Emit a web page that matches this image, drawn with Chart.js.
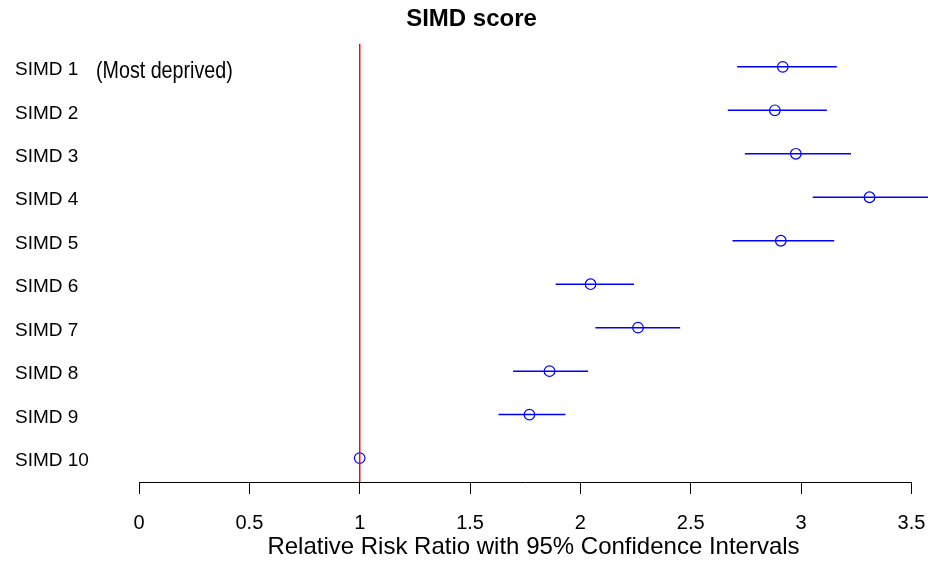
<!DOCTYPE html>
<html>
<head>
<meta charset="utf-8">
<title>SIMD score</title>
<script src="https://cdn.jsdelivr.net/npm/chart.js@4/dist/chart.umd.min.js"></script>
<style>
  html, body { margin: 0; padding: 0; background: #fff; }
  #wrap { width: 928px; height: 562px; }
</style>
</head>
<body>
<div id="wrap"><canvas id="chart"></canvas></div>
<script>
const categories = ["SIMD 1", "SIMD 2", "SIMD 3", "SIMD 4", "SIMD 5",
  "SIMD 6", "SIMD 7", "SIMD 8", "SIMD 9", "SIMD 10"];
const ratio = [2.917, 2.881, 2.976, 3.310, 2.908, 2.046, 2.261, 1.860, 1.769, 1.0];
const lower = [2.710, 2.668, 2.745, 3.053, 2.689, 1.888, 2.068, 1.695, 1.629, 1.0];
const upper = [3.162, 3.117, 3.226, 3.600, 3.150, 2.243, 2.452, 2.035, 1.932, 1.0];
const xTicks = [0, 0.5, 1, 1.5, 2, 2.5, 3, 3.5];
const referenceLine = 1;
const note = "(Most deprived)";

const BLUE = "#0000ff";
const FONT = "'Liberation Sans', Arial, sans-serif";
const Y_MIN = 0.47;
const Y_MAX = 10.55;

// one short line dataset per row for the confidence interval
const ciSets = categories.map((c, i) => ({
  type: "line",
  data: [{ x: lower[i], y: i + 1 }, { x: upper[i], y: i + 1 }],
  borderColor: BLUE,
  borderWidth: 1.5,
  pointRadius: 0,
  showLine: true,
}));

const extras = {
  id: "extras",
  afterDraw(chart) {
    const { ctx, scales: { x, y }, chartArea } = chart;
    ctx.save();
    // R-style axis line only across the tick range
    ctx.strokeStyle = "#000";
    ctx.lineWidth = 1;
    ctx.beginPath();
    const yy = Math.round(chartArea.bottom) + 0.5;
    ctx.moveTo(x.getPixelForValue(xTicks[0]), yy);
    ctx.lineTo(x.getPixelForValue(xTicks[xTicks.length - 1]) + 0.5, yy);
    ctx.stroke();
    // note next to the first category, in a narrow face
    ctx.fillStyle = "#000";
    ctx.font = "24px 'Liberation Sans Narrow', " + FONT;
    ctx.textBaseline = "middle";
    ctx.translate(96, y.getPixelForValue(1) + 5);
    ctx.scale(0.82, 1);
    ctx.fillText(note, 0, 0);
    ctx.restore();
  },
};

new Chart(document.getElementById("chart"), {
  type: "scatter",
  data: {
    datasets: [
      {
        type: "line",
        data: [{ x: referenceLine, y: Y_MIN }, { x: referenceLine, y: Y_MAX }],
        borderColor: "#ff0000",
        borderWidth: 1,
        pointRadius: 0,
        showLine: true,
      },
      ...ciSets,
      {
        data: ratio.map((v, i) => ({ x: v, y: i + 1 })),
        pointStyle: "circle",
        pointRadius: 5.3,
        pointBorderWidth: 1.2,
        pointBorderColor: BLUE,
        pointBackgroundColor: "rgba(0,0,0,0)",
      },
    ],
  },
  options: {
    responsive: true,
    maintainAspectRatio: false,
    animation: false,
    events: [],
    layout: { autoPadding: false, padding: { left: 15, right: 0, top: 0, bottom: 0 } },
    plugins: {
      legend: { display: false },
      tooltip: { enabled: false },
      title: {
        display: true,
        text: "SIMD score",
        color: "#000",
        font: { family: FONT, size: 24, weight: "bold" },
        padding: { top: 5, bottom: 10 },
      },
    },
    scales: {
      x: {
        type: "linear",
        min: 0,
        max: 3.575,
        afterBuildTicks: (scale) => { scale.ticks = xTicks.map((v) => ({ value: v })); },
        afterFit: (scale) => {
          scale.height = 80;
          scale.paddingLeft = 0;
          scale.paddingRight = 0;
        },
        grid: { display: true, drawOnChartArea: false, drawTicks: true, tickLength: 12, color: "#000" },
        border: { display: false },
        ticks: {
          color: "#000",
          padding: 17,
          maxRotation: 0,
          autoSkip: false,
          font: { family: FONT, size: 20 },
          callback: (v) => String(v),
        },
        title: {
          display: true,
          text: "Relative Risk Ratio with 95% Confidence Intervals",
          color: "#000",
          font: { family: FONT, size: 24 },
          padding: { top: 0, bottom: 0 },
        },
      },
      y: {
        type: "linear",
        reverse: true,
        min: Y_MIN,
        max: Y_MAX,
        afterBuildTicks: (scale) => { scale.ticks = categories.map((c, i) => ({ value: i + 1 })); },
        afterFit: (scale) => { scale.width = 124; },
        grid: { display: false },
        border: { display: false },
        ticks: {
          color: "#000",
          crossAlign: "far",
          autoSkip: false,
          labelOffset: 3,
          font: { family: FONT, size: 19 },
          callback: (v) => categories[v - 1] || "",
        },
      },
    },
  },
  plugins: [extras],
});
</script>
</body>
</html>
